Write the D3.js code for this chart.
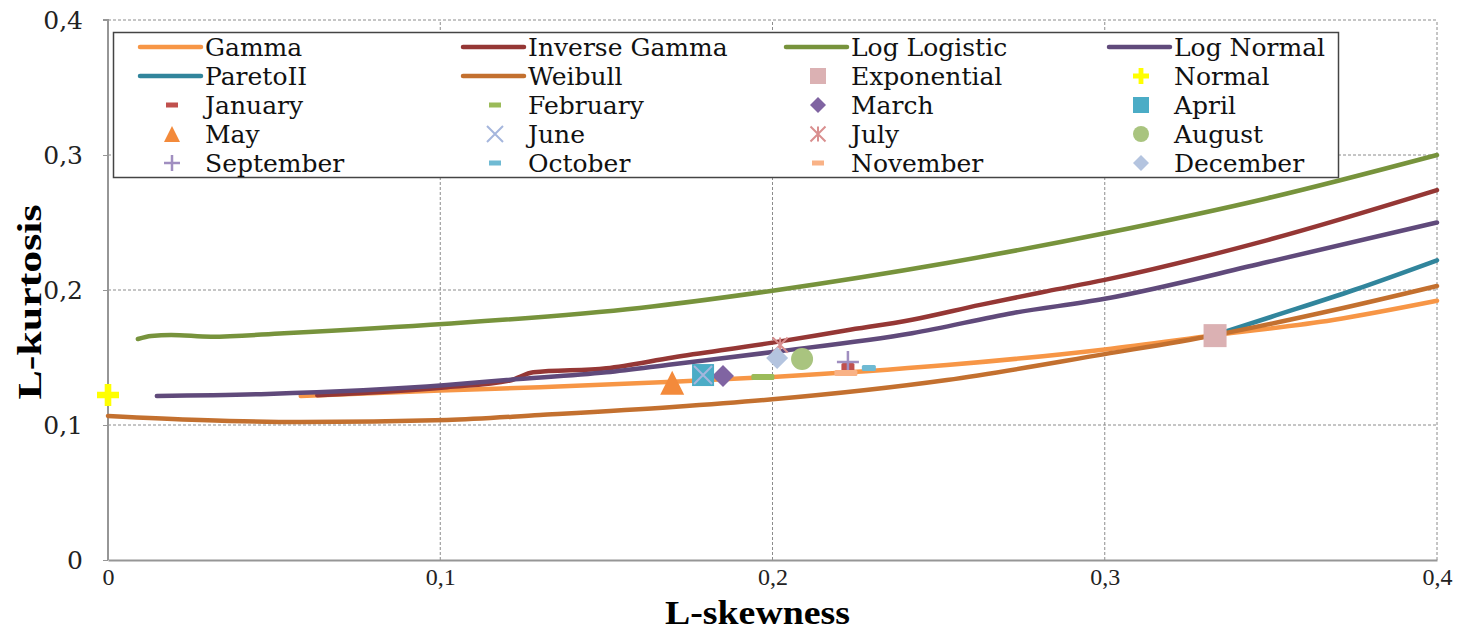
<!DOCTYPE html>
<html>
<head>
<meta charset="utf-8">
<script src="https://cdn.jsdelivr.net/npm/d3@7"></script>
<style>
  html, body { margin: 0; padding: 0; background: #fff; }
  svg { display: block; }
</style>
</head>
<body>
<svg id="chart" width="1458" height="630"></svg>
<script>
// L-moment ratio diagram: theoretical distribution curves and monthly sample points.

// Theoretical curves, [L-skewness, L-kurtosis] pairs
const gammaCurve = [[0.058,0.1215],[0.100,0.1255],[0.130,0.128],[0.170,0.132],[0.200,0.1356],[0.2525,0.1444],[0.300,0.156],[0.333,0.1665],[0.3687,0.1778],[0.400,0.192]];
const invGammaCurve = [[0.063,0.122],[0.102,0.128],[0.121,0.133],[0.128,0.139],[0.150,0.142],[0.170,0.150],[0.200,0.161],[0.222,0.170],[0.242,0.178],[0.2625,0.189],[0.2825,0.199],[0.300,0.2075],[0.349,0.237],[0.400,0.274]];
const logLogisticCurve = [[0.009,0.1637],[0.013,0.166],[0.019,0.1667],[0.031,0.1654],[0.053,0.168],[0.102,0.175],[0.160,0.1867],[0.200,0.1995],[0.2525,0.220],[0.300,0.242],[0.349,0.268],[0.400,0.300]];
const logNormalCurve = [[0.0147,0.1215],[0.048,0.123],[0.102,0.1296],[0.120,0.1333],[0.150,0.139],[0.170,0.145],[0.200,0.154],[0.242,0.168],[0.2725,0.183],[0.300,0.1935],[0.349,0.2207],[0.400,0.250]];
const paretoCurve = [[0.333,0.1665],[0.350,0.180],[0.375,0.200],[0.400,0.222]];
const weibullCurve = [[0.000,0.1067],[0.0277,0.1037],[0.058,0.1022],[0.102,0.1037],[0.130,0.1074],[0.170,0.1133],[0.200,0.119],[0.2525,0.1333],[0.300,0.1525],[0.333,0.1665],[0.3687,0.185],[0.400,0.203]];

const curveNames = ["Gamma", "Inverse Gamma", "Log Logistic", "Log Normal", "ParetoII", "Weibull"];
const curveData = [gammaCurve, invGammaCurve, logLogisticCurve, logNormalCurve, paretoCurve, weibullCurve];

// Single-point distributions
const pointNames = ["Exponential", "Normal"];
const pointSkew = [0.3332, 0.0];
const pointKurt = [0.1662, 0.1222];

// Monthly sample L-moment ratios
const monthNames = ["January","February","March","April","May","June","July","August","September","October","November","December"];
const monthSkew = [0.2227, 0.1971, 0.1851, 0.1791, 0.1698, 0.1791, 0.2023, 0.2089, 0.2227, 0.2290, 0.2221, 0.2014];
const monthKurt = [0.1430, 0.1356, 0.1363, 0.1370, 0.1313, 0.1370, 0.1593, 0.1489, 0.1467, 0.1422, 0.1385, 0.1496];

// Axis ticks
const xTicks = [0, 0.1, 0.2, 0.3, 0.4];
const yTicks = [0, 0.1, 0.2, 0.3, 0.4];
const tickLabel = v => v === 0 ? "0" : d3.format(".1f")(v).replace(".", ",");

// Styles
const curveColors = ["#F79646", "#953735", "#77933C", "#604A7B", "#31859C", "#C3702F"];
const pointStyles = [
  {shape: "square", color: "#DBB1B3", size: 23},
  {shape: "cross", color: "#FFFF00", size: 22}
];
const monthStyles = [
  {shape: "dashSmall", color: "#C0504D"},
  {shape: "dash", color: "#9BBB59"},
  {shape: "diamond", color: "#8064A2", size: 22},
  {shape: "square", color: "#4BACC6", size: 22},
  {shape: "triangle", color: "#F38A3B", size: 24},
  {shape: "x", color: "#A5B6DD", size: 18},
  {shape: "asterisk", color: "#D98F8F", size: 15},
  {shape: "circle", color: "#A9C47F", size: 22},
  {shape: "plus", color: "#A08EC0", size: 22},
  {shape: "dashShort", color: "#6FBAD3"},
  {shape: "dash", color: "#F9B286"},
  {shape: "diamond", color: "#B4C4DF", size: 22}
];

const svg = d3.select("#chart");
const margin = {left: 108, right: 21, top: 20, bottom: 70};
const W = 1458, H = 630;

const x = d3.scaleLinear().domain([0, 0.4]).range([margin.left, W - margin.right]);
const y = d3.scaleLinear().domain([0, 0.4]).range([H - margin.bottom, margin.top]);

const serif = "'Liberation Serif', 'DejaVu Serif', serif";
const wideSerif = "'DejaVu Serif', 'Liberation Serif', serif";

// Grid
const grid = svg.append("g");
grid.selectAll("line.v").data(xTicks.filter(d => d > 0)).join("line")
  .attr("x1", d => x(d)).attr("x2", d => x(d))
  .attr("y1", y(0)).attr("y2", y(0.4))
  .attr("stroke", "#8c8c8c").attr("stroke-width", 1).attr("stroke-dasharray", "3,2");
grid.selectAll("line.h").data(yTicks.filter(d => d > 0)).join("line")
  .attr("x1", x(0)).attr("x2", x(0.4))
  .attr("y1", d => y(d)).attr("y2", d => y(d))
  .attr("stroke", "#8c8c8c").attr("stroke-width", 1).attr("stroke-dasharray", "3,2");

// Axes
const xAxis = d3.axisBottom(x).tickValues(xTicks).tickFormat(tickLabel).tickSize(0).tickPadding(8);
const yAxis = d3.axisLeft(y).tickValues(yTicks).tickFormat(tickLabel).tickSize(5).tickPadding(20);

const gx = svg.append("g").attr("transform", `translate(0,${y(0)})`).call(xAxis);
const gy = svg.append("g").attr("transform", `translate(${x(0)},0)`).call(yAxis);
[gx, gy].forEach(g => {
  g.select(".domain").attr("stroke", "#969696").attr("stroke-width", 2);
  g.selectAll(".tick line").attr("stroke", "#969696").attr("stroke-width", 1);
  g.selectAll(".tick text").attr("fill", "#222");
});
gx.selectAll(".tick text").attr("dy", "0.71em").style("font-family", serif).style("font-size", "24px");
gy.selectAll(".tick text").style("font-family", wideSerif).style("font-size", "25px");
gy.select(".domain").attr("d", `M-5,${y(0.4)}H0V${y(0)}`);

// Axis titles
svg.append("text").attr("x", (x(0) + x(0.4)) / 2 - 15).attr("y", 624)
  .attr("text-anchor", "middle").style("font-family", serif).style("font-weight", "bold").style("font-size", "34px")
  .attr("textLength", 185).attr("lengthAdjust", "spacingAndGlyphs")
  .text("L-skewness");
svg.append("text").attr("transform", `translate(41,${(y(0) + y(0.4)) / 2 + 12}) rotate(-90)`)
  .attr("text-anchor", "middle").style("font-family", serif).style("font-weight", "bold").style("font-size", "34px")
  .attr("textLength", 195).attr("lengthAdjust", "spacingAndGlyphs")
  .text("L-kurtosis");

// Curves
const line = d3.line().x(d => x(d[0])).y(d => y(d[1])).curve(d3.curveMonotoneX);
const curves = svg.append("g");
curveData.forEach((data, i) => {
  curves.append("path").datum(data)
    .attr("d", line)
    .attr("fill", "none")
    .attr("stroke", curveColors[i])
    .attr("stroke-width", 4.5)
    .attr("stroke-linecap", "round")
    .attr("stroke-linejoin", "round");
});

// Marker drawing
function drawMarker(g, st) {
  const s = st.size || 20, h = s / 2, c = st.color;
  switch (st.shape) {
    case "square":
      g.append("rect").attr("x", -h).attr("y", -h).attr("width", s).attr("height", s).attr("fill", c); break;
    case "diamond":
      g.append("path").attr("d", `M0,${-h}L${h},0L0,${h}L${-h},0Z`).attr("fill", c); break;
    case "triangle":
      g.append("path").attr("d", `M0,${-h}L${h},${h}L${-h},${h}Z`).attr("fill", c); break;
    case "circle":
      g.append("circle").attr("r", h).attr("fill", c); break;
    case "cross": {
      const t = s * 0.3;
      g.append("path").attr("d", `M${-t/2},${-h}H${t/2}V${-t/2}H${h}V${t/2}H${t/2}V${h}H${-t/2}V${t/2}H${-h}V${-t/2}H${-t/2}Z`).attr("fill", c);
      break;
    }
    case "x":
      g.append("path").attr("d", `M${-h},${-h}L${h},${h}M${-h},${h}L${h},${-h}`).attr("stroke", c).attr("stroke-width", 2); break;
    case "asterisk":
      g.append("path").attr("d", `M${-h},${-h}L${h},${h}M${-h},${h}L${h},${-h}M0,${-h}V${h}`).attr("stroke", c).attr("stroke-width", 2); break;
    case "plus":
      g.append("path").attr("d", `M${-h},0H${h}M0,${-h}V${h}`).attr("stroke", c).attr("stroke-width", 2.5); break;
    case "dash":
      g.append("rect").attr("x", -11.5).attr("y", -3).attr("width", 23).attr("height", 6).attr("rx", 1.5).attr("fill", c); break;
    case "dashShort":
      g.append("rect").attr("x", -7).attr("y", -3).attr("width", 14).attr("height", 6).attr("rx", 1.5).attr("fill", c); break;
    case "dashSmall":
      g.append("rect").attr("x", -6.5).attr("y", -4).attr("width", 13).attr("height", 8).attr("rx", 1.5).attr("fill", c); break;
  }
}

// Points: distributions and months
const marks = svg.append("g");
monthNames.forEach((m, i) => {
  drawMarker(marks.append("g").attr("transform", `translate(${x(monthSkew[i])},${y(monthKurt[i])})`), monthStyles[i]);
});
pointNames.forEach((p, i) => {
  drawMarker(marks.append("g").attr("transform", `translate(${x(pointSkew[i])},${y(pointKurt[i])})`), pointStyles[i]);
});

// Legend
const legendItems = [];
curveNames.forEach((n, i) => legendItems.push({name: n, kind: "line", color: curveColors[i]}));
pointNames.forEach((n, i) => legendItems.push({name: n, kind: "mark", style: pointStyles[i]}));
monthNames.forEach((n, i) => legendItems.push({name: n, kind: "mark", style: monthStyles[i]}));

const legend = svg.append("g");
legend.append("rect").attr("x", 113.5).attr("y", 32.5).attr("width", 1225).attr("height", 145)
  .attr("fill", "#fff").attr("stroke", "#444").attr("stroke-width", 1.5);

const colX = [140, 463, 786, 1109];
const rowY0 = 47, rowH = 29;
legendItems.forEach((it, i) => {
  const cx = colX[i % 4], cy = rowY0 + Math.floor(i / 4) * rowH;
  const g = legend.append("g").attr("transform", `translate(${cx},${cy})`);
  if (it.kind === "line") {
    g.append("line").attr("x1", 0).attr("x2", 61).attr("y1", 0).attr("y2", 0)
      .attr("stroke", it.color).attr("stroke-width", 4.5).attr("stroke-linecap", "round");
  } else {
    const st = Object.assign({}, it.style);
    if (st.size) st.size = Math.min(st.size, 16);
    if (st.shape === "dash" || st.shape === "dashShort" || st.shape === "dashSmall") st.shape = "legendDash";
    const mg = g.append("g").attr("transform", "translate(32,0)");
    if (st.shape === "legendDash") {
      mg.append("rect").attr("x", -6).attr("y", -2.5).attr("width", 12).attr("height", 5).attr("fill", st.color);
    } else {
      drawMarker(mg, st);
    }
  }
  g.append("text").attr("x", 65).attr("y", 0).attr("dy", "0.35em")
    .style("font-family", wideSerif).style("font-size", "25px").attr("fill", "#111")
    .text(it.name);
});
</script>
</body>
</html>
